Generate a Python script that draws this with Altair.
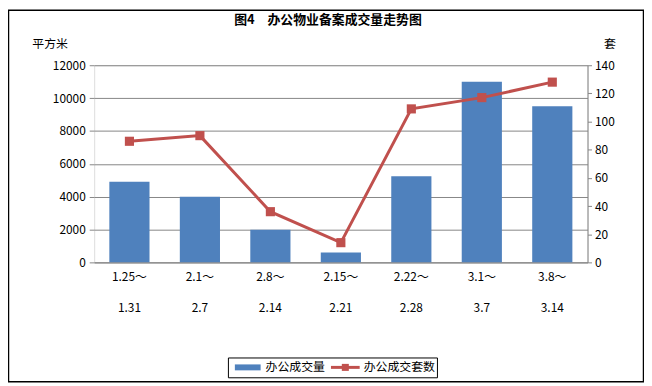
import altair as alt
import pandas as pd

# ---- data ----
period_start = ["1.25～", "2.1～", "2.8～", "2.15～", "2.22～", "3.1～", "3.8～"]
period_end = ["1.31", "2.7", "2.14", "2.21", "2.28", "3.7", "3.14"]
area_sqm = [4900, 4000, 1980, 600, 5250, 11000, 9500]      # 办公成交量 (平方米)
units_sold = [86, 90, 36, 14, 109, 117, 128]              # 办公成交套数 (套)
series_names = ["办公成交量", "办公成交套数"]
left_ticks = [0, 2000, 4000, 6000, 8000, 10000, 12000]
right_ticks = [0, 20, 40, 60, 80, 100, 120, 140]
title_text = "图4　办公物业备案成交量走势图"
left_unit = "平方米"
right_unit = "套"

BLUE = "#4f81bd"
RED = "#c0504d"
GRID = "#868686"
FONT = "Noto Sans CJK SC"

df = pd.DataFrame({
    "period": [s + "|" + e for s, e in zip(period_start, period_end)],
    "area": area_sqm,
    "units": units_sold,
})

W, H = 498, 199

x_enc = alt.X(
    "period:N", sort=None,
    scale=alt.Scale(paddingInner=0.43, paddingOuter=0.215),
    axis=alt.Axis(title=None, labelExpr="split(datum.label, '|')", labelAngle=0,
                  ticks=False, domainColor=GRID, labelLineHeight=32, labelPadding=9,
                  labelFontSize=12, labelColor="black", grid=False, labelFont=FONT),
)

base = alt.Chart(df)

bars = base.mark_bar(color=BLUE).encode(
    x=x_enc,
    y=alt.Y("area:Q", scale=alt.Scale(domain=[0, 12000]),
            axis=alt.Axis(values=left_ticks, format="d", title=left_unit, titleAngle=0,
                          titleX=-45, titleY=-22,
                          titleAlign="center", titleBaseline="middle", titleFontWeight="normal",
                          titleFontSize=12, titleFont=FONT, grid=True, gridColor=GRID, domain=False,
                          tickColor=GRID, tickSize=5, labelPadding=4, labelFontSize=12,
                          labelFont=FONT, labelColor="black")),
)

line = base.mark_line(color=RED, strokeWidth=3,
                      point=alt.OverlayMarkDef(shape="square", size=85, filled=True, color=RED)).encode(
    x=x_enc,
    y=alt.Y("units:Q", scale=alt.Scale(domain=[0, 140]),
            axis=alt.Axis(orient="right", values=right_ticks, format="d", title=right_unit,
                          titleAngle=0,
                          titleX=22, titleY=-22, titleAlign="center", titleBaseline="middle",
                          titleFontWeight="normal", titleFontSize=12, titleFont=FONT, grid=False,
                          domainColor=GRID, tickColor=GRID, tickSize=4, labelPadding=3,
                          labelFontSize=12, labelFont=FONT, labelColor="black")),
)

one = alt.Data(values=[{"k": 1}])

frame = alt.Chart(one).mark_rect(fillOpacity=0, stroke="black", strokeWidth=1.5).encode(
    x=alt.value(-86.5), x2=alt.value(554.5), y=alt.value(-55.5), y2=alt.value(319.5))

leg_box = alt.Chart(one).mark_rect(fill="white", stroke="black", strokeWidth=1).encode(
    x=alt.value(135.5), x2=alt.value(346.5), y=alt.value(295.5), y2=alt.value(315.5))
leg_blue = alt.Chart(one).mark_rect(color=BLUE).encode(
    x=alt.value(142), x2=alt.value(168), y=alt.value(302), y2=alt.value(308))
leg_text1 = alt.Chart(one).mark_text(align="left", baseline="middle", fontSize=12, font=FONT).encode(
    x=alt.value(173), y=alt.value(305), text=alt.value(series_names[0]))
leg_line = alt.Chart(one).mark_rule(color=RED, strokeWidth=3).encode(
    x=alt.value(239), x2=alt.value(268), y=alt.value(305))
leg_sq = alt.Chart(one).mark_point(shape="square", size=50, filled=True, color=RED, opacity=1).encode(
    x=alt.value(253.5), y=alt.value(305))
leg_text2 = alt.Chart(one).mark_text(align="left", baseline="middle", fontSize=12, font=FONT).encode(
    x=alt.value(272), y=alt.value(305), text=alt.value(series_names[1]))

chart = alt.layer(
    bars, line, frame, leg_box, leg_blue, leg_text1, leg_line, leg_sq, leg_text2
).resolve_scale(y="independent").properties(
    width=W, height=H,
    title=alt.TitleParams(title_text, anchor="middle", dx=-13, offset=-18, fontSize=13,
                          fontWeight="bold", font=FONT, color="black"),
    autosize=alt.AutoSizeParams(type="none"),
    padding={"left": 87, "top": 56, "right": 57, "bottom": 121},
).configure_view(stroke=None).configure(background="white")

chart.save("out.html", embed_options={"renderer": "svg", "actions": False})
